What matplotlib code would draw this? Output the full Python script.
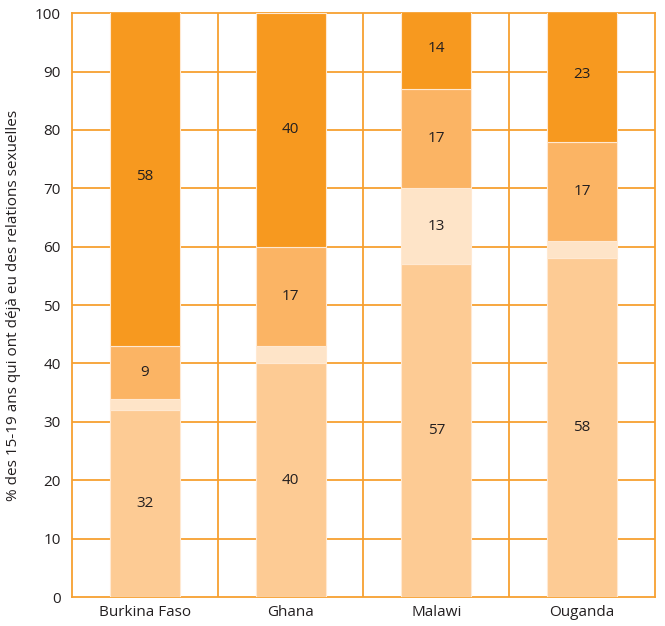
import matplotlib.pyplot as plt
import numpy as np

plt.rcParams['font.family'] = ['Open Sans', 'DejaVu Sans']

countries = ['Burkina Faso', 'Ghana', 'Malawi', 'Ouganda']
# stacked from the bottom up
seg_bottom = [32, 40, 57, 58]
seg_light = [2, 3, 13, 3]
seg_mid = [9, 17, 17, 17]
seg_top = [58, 40, 14, 23]

label_light = [None, None, '13', None]

colors = ['#FDCB94', '#FEE4C8', '#FBB464', '#F7991F']
grid_col = '#F7A030'

fig = plt.figure(figsize=(6.65, 6.26), dpi=100)
ax = fig.add_axes([0.108, 0.0463, 0.877, 0.9327])

x = np.arange(len(countries))
width = 0.48
base = np.zeros(len(countries))
segments = [seg_bottom, seg_light, seg_mid, seg_top]
for i, (vals, col) in enumerate(zip(segments, colors)):
    vals = np.array(vals, dtype=float)
    ax.bar(x, vals, width, bottom=base, color=col, edgecolor='#FFE9D2',
           linewidth=0.8, zorder=3)
    for j, v in enumerate(vals):
        if i == 1:
            txt = label_light[j]
        else:
            txt = str(int(v))
        if txt:
            ymid = base[j] + v / 2
            if ymid > 100:
                ymid = (base[j] + 100) / 2
            ax.text(x[j], ymid, txt, ha='center', va='center', fontsize=11,
                    color='#231F20', zorder=4)
    base += vals

ax.set_xlim(-0.5, len(countries) - 0.5)
ax.set_ylim(0, 100)
ax.set_yticks(range(0, 101, 10))
ax.set_xticks(x)
ax.set_xticklabels(countries, fontsize=11, color='#231F20')
ax.tick_params(axis='y', labelsize=11, colors='#231F20', length=0, pad=8)
ax.tick_params(axis='x', length=0, pad=6)

for yv in range(10, 100, 10):
    ax.axhline(yv, color=grid_col, linewidth=1.3, zorder=1)
for xv in np.arange(0.5, len(countries) - 0.5, 1):
    ax.axvline(xv, color=grid_col, linewidth=1.3, zorder=1)
for s in ax.spines.values():
    s.set_color(grid_col)
    s.set_linewidth(1.3)

ax.set_ylabel('% des 15-19 ans qui ont déjà eu des relations sexuelles',
              fontsize=11, color='#231F20', labelpad=10)

fig.savefig('out.png', dpi=100)
